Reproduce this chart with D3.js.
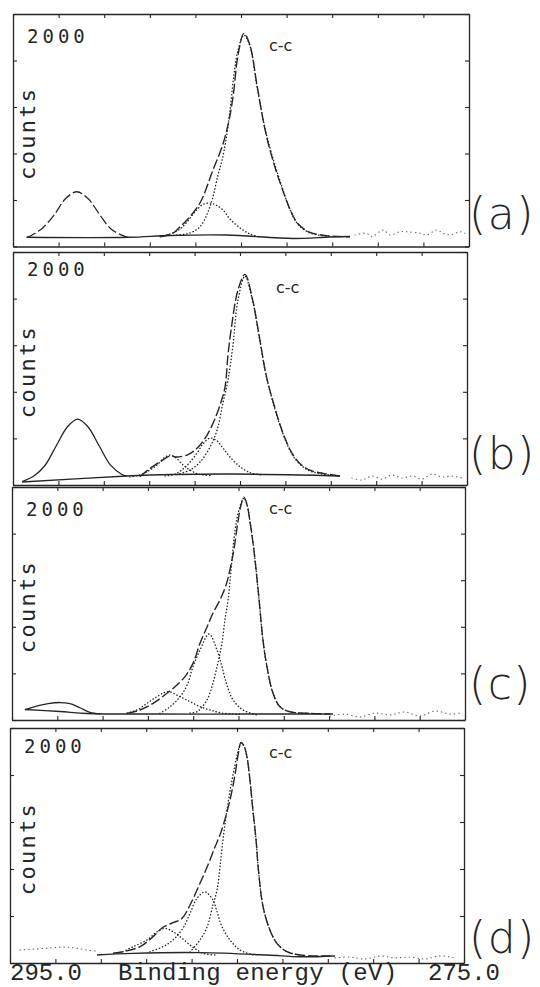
<!DOCTYPE html>
<html><head><meta charset="utf-8">
<script src="https://cdn.jsdelivr.net/npm/d3@7"></script>
<style>html,body{margin:0;padding:0;background:#fff;}svg{display:block;}</style>
</head><body>
<svg id="chart" width="540" height="987"></svg>
<script>
// ---------- data (binding energy eV, counts) ----------
const panelLabels = ["(a)", "(b)", "(c)", "(d)"];
const peakLabel = "c-c";
const topCountLabel = "2000";
const yTitle = "counts";
const xStartLabel = "295.0";
const xEndLabel = "275.0";
const xTitle = "Binding energy (eV)";
const energyDomain = [295, 275];
const countDomain = [0, 2000];
const energyTicks = [295, 293, 291, 289, 287, 285, 283, 281, 279, 277, 275];
const countTicks = [0, 400, 800, 1200, 1600, 2000];

// panel (a)
const aSatellite = [[294.40,79],[294.2,95],[293.7,160],[293.2,270],[292.7,410],[292.2,471],[291.7,410],[291.2,275],[290.7,150],[290.2,95],[289.96,79]];
const aBackground = [[294.40,79],[289.96,79],[288.11,95],[285.61,99],[282.72,69],[281.10,82],[280.22,86]];
const aEnvelope = [[288.55,84],[287.98,114],[287.68,168],[287.37,228],[286.80,374],[286.23,658],[285.83,858],[285.57,1045],[285.35,1286],[285.13,1647],[284.87,1833],[284.61,1733],[284.30,1390],[283.95,1010],[283.60,740],[283.20,500],[282.85,320],[282.50,195],[281.97,122],[281.10,90],[280.22,84]];
const aCC = [[287.81,99],[287.24,116],[286.80,170],[286.45,297],[286.23,428],[286.01,615],[285.83,744],[285.66,916],[285.48,1174],[285.31,1475],[285.13,1690],[284.87,1819],[284.61,1724],[284.30,1378],[283.95,1020],[283.60,760],[283.20,512],[282.85,315],[282.50,190],[281.97,116],[281.10,86]];
const aCO = [[288.55,86],[288.11,108],[287.68,150],[287.37,211],[287.02,297],[286.71,357],[286.40,374],[286.10,357],[285.79,314],[285.48,236],[285.04,159],[284.61,108],[284.17,82]];
const aNoise = [[280.0,99],[279.49,114],[279.27,84],[278.76,142],[278.46,99],[278.03,127],[277.73,127],[277.15,114],[276.86,99],[276.42,142],[276.13,114],[275.83,99],[275.39,127],[275.18,114]];

// panel (b)
const bSatellite = [[294.6,30],[294.1,75],[293.6,165],[293.1,335],[292.6,500],[292.15,566],[291.7,500],[291.2,335],[290.7,170],[290.2,90],[289.98,77]];
const bBackground = [[294.60,26],[289.98,77],[287.95,90],[285.31,94],[282.36,86],[280.59,77]];
const bEnvelope = [[289.41,71],[288.96,143],[288.52,200],[288.08,249],[287.78,240],[287.33,257],[287.07,286],[286.76,343],[286.45,429],[286.19,529],[285.88,686],[285.66,841],[285.53,1115],[285.40,1321],[285.09,1673],[284.78,1808],[284.47,1613],[284.16,1287],[283.85,945],[283.55,720],[283.24,520],[282.93,360],[282.67,260],[282.36,185],[281.92,127],[281.34,100],[280.59,77]];
const bC3 = [[289.85,69],[289.41,86],[288.96,129],[288.66,172],[288.35,232],[288.08,257],[287.82,232],[287.51,172],[287.20,129],[286.85,94],[286.32,82]];
const bCO = [[288.30,77],[287.86,94],[287.51,137],[287.20,197],[286.89,275],[286.63,352],[286.32,403],[286.01,378],[285.75,317],[285.44,240],[285.00,157],[284.56,106],[284.03,86]];
const bCC = [[287.78,90],[287.20,129],[286.76,197],[286.32,326],[286.01,472],[285.75,704],[285.53,901],[285.31,1201],[285.09,1587],[284.78,1793],[284.47,1604],[284.16,1278],[283.85,938],[283.55,712],[283.24,512],[282.93,352],[282.67,252],[282.36,178],[281.92,120],[281.34,94],[280.59,77]];
const bNoise = [[280.07,60],[279.63,43],[279.19,77],[278.75,51],[278.30,86],[277.86,60],[277.42,77],[276.98,51],[276.54,94],[276.10,69],[275.66,77],[275.22,60]];

// panel (c)
const cSatellite = [[294.43,90],[293.98,115],[293.41,140],[292.88,150],[292.44,140],[292.00,105],[291.56,65],[291.11,52]];
const cBackground = [[294.43,90],[292.88,73],[291.69,56],[288.91,51],[284.49,51],[280.83,51]];
const cEnvelope = [[289.92,57],[289.35,86],[288.77,143],[288.16,229],[287.72,300],[287.36,372],[287.01,486],[286.70,658],[286.39,798],[286.13,916],[285.82,1030],[285.55,1158],[285.38,1287],[285.20,1467],[285.02,1707],[284.89,1845],[284.76,1912],[284.62,1845],[284.49,1699],[284.32,1459],[284.09,1030],[283.92,686],[283.74,454],[283.48,232],[283.17,114],[282.73,71],[281.84,57],[280.96,51]];
const cCO = [[288.47,57],[288.02,114],[287.58,200],[287.27,300],[287.01,457],[286.70,601],[286.30,738],[285.95,601],[285.73,457],[285.51,300],[285.24,172],[284.80,86],[284.18,43]];
const cC3 = [[289.92,60],[289.48,86],[289.04,143],[288.60,200],[288.12,243],[287.58,200],[287.14,157],[286.70,115],[286.26,86],[285.73,60],[284.93,50]];
const cCC = [[287.14,60],[286.83,71],[286.39,172],[286.13,317],[285.91,489],[285.73,661],[285.60,858],[285.46,1030],[285.33,1287],[285.15,1631],[284.98,1802],[284.76,1904],[284.62,1845],[284.49,1699],[284.32,1459],[284.09,1030],[283.92,686],[283.74,454],[283.48,232],[283.17,114],[282.73,71],[281.84,57]];
const cNoise = [[280.96,34],[280.30,51],[279.64,26],[278.97,60],[278.31,43],[277.65,69],[276.99,34],[276.32,77],[275.66,51],[275.22,60]];

// panel (d)
const dNoiseLeft = [[294.56,111],[293.90,119],[293.24,128],[292.67,136],[292.14,128],[291.61,111],[291.17,102]];
const dBackground = [[291.17,68],[289.58,82],[286.63,88],[283.68,68],[282.22,53],[280.68,60]];
const dEnvelope = [[290.46,83],[290.02,96],[289.27,139],[288.70,224],[288.26,304],[287.82,343],[287.42,380],[287.07,494],[286.63,678],[286.28,834],[285.97,987],[285.75,1089],[285.48,1259],[285.26,1430],[285.09,1600],[284.96,1762],[284.82,1877],[284.69,1846],[284.56,1753],[284.43,1557],[284.30,1302],[284.16,1047],[284.06,800],[283.85,477],[283.55,281],[283.24,167],[282.80,96],[282.22,68],[280.90,60]];
const dCO = [[288.83,96],[288.26,139],[287.82,196],[287.38,296],[287.07,423],[286.76,551],[286.41,605],[286.06,536],[285.88,437],[285.66,309],[285.31,196],[284.87,111],[284.30,68]];
const dC3 = [[290.02,96],[289.58,139],[288.96,196],[288.52,266],[288.17,295],[287.82,266],[287.42,210],[287.07,153],[286.76,111],[286.50,82],[285.97,68]];
const dCC = [[287.07,94],[286.63,196],[286.32,306],[286.06,494],[285.88,621],[285.75,817],[285.62,1047],[285.44,1302],[285.26,1515],[285.09,1685],[284.96,1796],[284.82,1872],[284.69,1846],[284.56,1753],[284.43,1557],[284.30,1302],[284.16,1047],[284.06,800],[283.85,477],[283.55,281],[283.24,167],[282.80,96],[282.22,68]];
const dNoise = [[280.68,43],[280.02,51],[279.36,34],[278.70,60],[278.04,43],[277.38,51],[276.72,34],[276.06,60],[275.40,43]];

// ---------- layout (positions / styles, kept apart from data) ----------
const frames = [
  {l:13, r:469, t:14,  b:246.5, numY:29, ccX:269, ccY:37,  labY:-17.5},
  {l:13, r:467, t:252, b:485,   numY:24, ccX:276, ccY:41,  labY:-16.5},
  {l:12, r:465, t:487, b:720,   numY:29, ccX:269, ccY:27,  labY:-21.5},
  {l:10, r:464, t:728, b:963,   numY:25, ccX:269, ccY:30,  labY:-10.5}
];
const panelSeries = [
  {sat:aSatellite, satStyle:"dash", bg:aBackground, env:aEnvelope, comps:[aCO, aCC], noise:[aNoise]},
  {sat:bSatellite, satStyle:"solid", bg:bBackground, env:bEnvelope, comps:[bC3, bCO, bCC], noise:[bNoise]},
  {sat:cSatellite, satStyle:"solid", bg:cBackground, env:cEnvelope, comps:[cC3, cCO, cCC], noise:[cNoise]},
  {sat:null, satStyle:"solid", bg:dBackground, env:dEnvelope, comps:[dC3, dCO, dCC], noise:[dNoise, dNoiseLeft]}
];
const INK = "#262626";

const svg = d3.select("#chart");

frames.forEach((f, i) => {
  const s = panelSeries[i];
  const x = d3.scaleLinear().domain(energyDomain).range([f.l, f.r]);
  const y = d3.scaleLinear().domain(countDomain).range([f.b, f.t]);
  const g = svg.append("g");
  const line = d3.line().x(d => x(d[0])).y(d => y(d[1])).curve(d3.curveCatmullRom.alpha(0.5));

  // frame + inner ticks through d3 axes
  const axStyle = sel => { sel.selectAll("path.domain").attr("stroke", INK).attr("stroke-width", 1.3);
    sel.selectAll(".tick line").attr("stroke", INK).attr("stroke-width", 1.1);
    sel.selectAll("text").remove(); };
  g.append("g").attr("transform", `translate(0,${f.b})`)
    .call(d3.axisBottom(x).tickValues(energyTicks).tickSizeInner(-4).tickSizeOuter(0)).call(axStyle);
  g.append("g").attr("transform", `translate(0,${f.t})`)
    .call(d3.axisTop(x).tickValues(energyTicks).tickSizeInner(-4).tickSizeOuter(0)).call(axStyle);
  g.append("g").attr("transform", `translate(${f.l},0)`)
    .call(d3.axisLeft(y).tickValues(countTicks).tickSizeInner(-4).tickSizeOuter(0)).call(axStyle);
  g.append("g").attr("transform", `translate(${f.r},0)`)
    .call(d3.axisRight(y).tickValues(countTicks).tickSizeInner(-4).tickSizeOuter(0)).call(axStyle);

  // noise (raw data outside the fit window)
  s.noise.forEach(n => g.append("path").attr("d", line(n)).attr("fill", "none")
    .attr("stroke", "#6a6a6a").attr("stroke-width", 1.2).attr("stroke-linecap", "round")
    .attr("stroke-dasharray", "0.4,4"));
  // background
  g.append("path").attr("d", line(s.bg)).attr("fill", "none").attr("stroke", INK).attr("stroke-width", 1.4);
  // satellite peak
  if (s.sat) g.append("path").attr("d", line(s.sat)).attr("fill", "none").attr("stroke", INK)
    .attr("stroke-width", 1.3).attr("stroke-dasharray", s.satStyle === "dash" ? "10,3" : null);
  // fitted components (dotted)
  s.comps.forEach(c => g.append("path").attr("d", line(c)).attr("fill", "none")
    .attr("stroke", INK).attr("stroke-width", 1.4).attr("stroke-linecap", "round")
    .attr("stroke-dasharray", "0.3,3"));
  // envelope (long dash)
  g.append("path").attr("d", line(s.env)).attr("fill", "none").attr("stroke", INK)
    .attr("stroke-width", 1.4).attr("stroke-dasharray", "10,3");

  // texts
  g.append("text").attr("x", f.l + 14).attr("y", f.t + f.numY).text(topCountLabel)
    .attr("font-family", "DejaVu Sans Mono").attr("font-size", 19).attr("letter-spacing", 4).attr("fill", INK);
  const cy = (f.t + f.b) / 2 + 3;
  g.append("text").attr("transform", `translate(35,${cy}) rotate(-90)`).attr("text-anchor", "middle")
    .text(yTitle).attr("font-family", "DejaVu Sans Mono").attr("font-size", 22).attr("letter-spacing", 2.3).attr("fill", INK);
  g.append("text").attr("x", f.ccX).attr("y", f.t + f.ccY).text(peakLabel)
    .attr("font-family", "DejaVu Sans").attr("font-size", 16).attr("fill", INK);
  g.append("text").attr("x", 469).attr("y", f.b + f.labY).text(panelLabels[i])
    .attr("font-family", "DejaVu Sans").attr("font-weight", 300).attr("font-size", 44)
    .attr("letter-spacing", 1.5).attr("fill", INK);
});

// bottom axis titles
svg.append("text").attr("x", 10).attr("y", 980).text(xStartLabel)
  .attr("font-family", "Liberation Mono").attr("font-size", 24).attr("fill", INK);
svg.append("text").attr("x", 118).attr("y", 980).text(xTitle)
  .attr("font-family", "Liberation Mono").attr("font-size", 24).attr("letter-spacing", 0.3).attr("fill", INK);
svg.append("text").attr("x", 500).attr("y", 980).attr("text-anchor", "end").text(xEndLabel)
  .attr("font-family", "Liberation Mono").attr("font-size", 24).attr("fill", INK);
</script>
</body></html>
